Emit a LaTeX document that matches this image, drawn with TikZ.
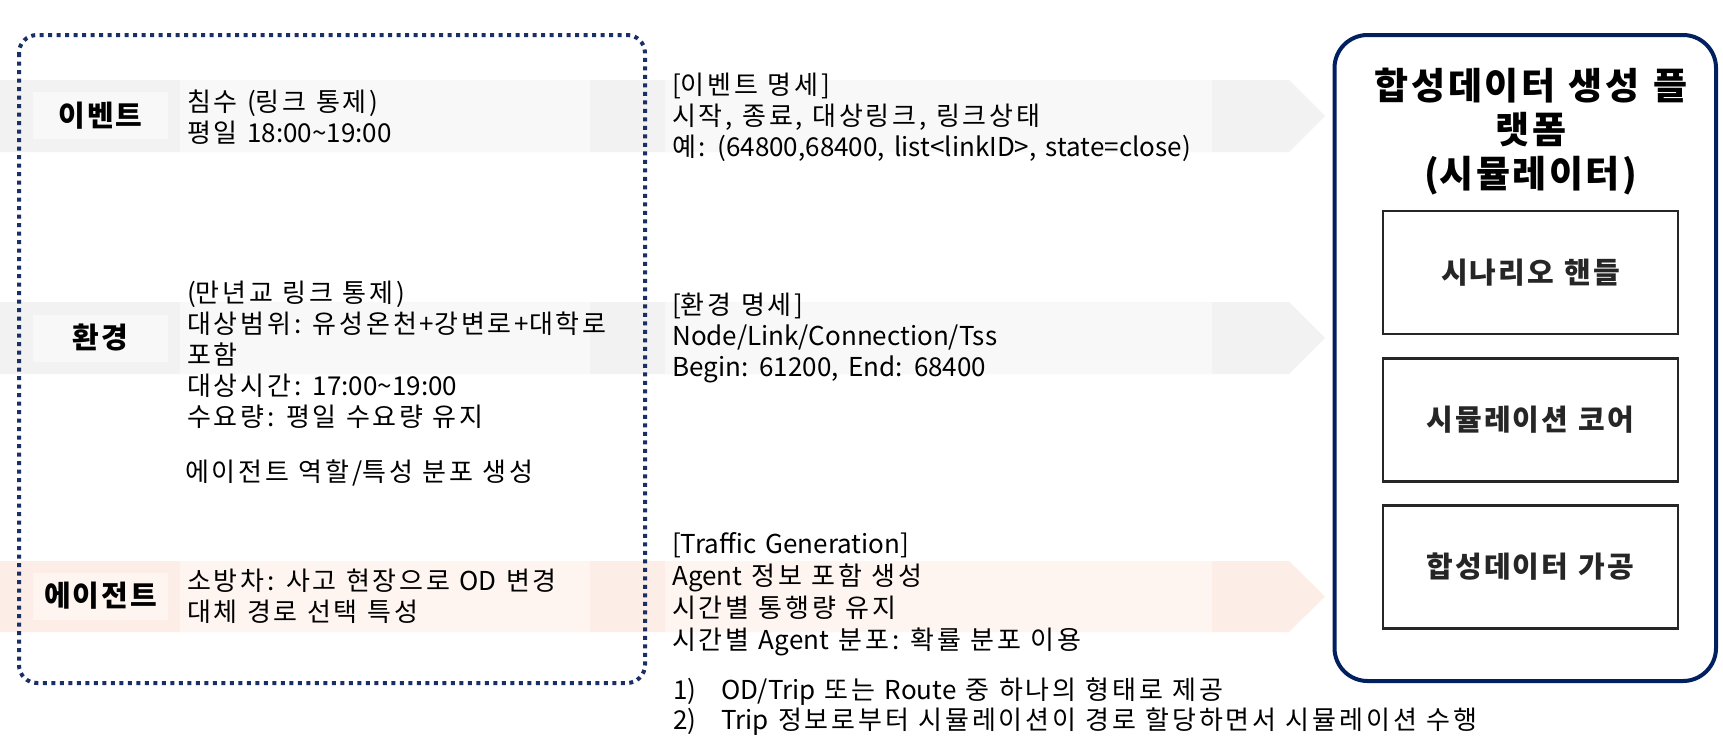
\documentclass[tikz,border=0pt]{standalone}
\usepackage{fontspec}
\setmainfont{Noto Sans CJK KR}[WordSpace=1.6]
% slightly wider tracking for Hangul syllables (closer to the reference face)
\def\hgk{.07em}
\XeTeXinterchartokenstate=1
\newXeTeXintercharclass\hgclass
\newcount\hgc
\hgc="AC00
\loop\ifnum\hgc<"D7A4 \XeTeXcharclass\hgc=\hgclass \advance\hgc by 1 \repeat
\XeTeXinterchartoks\hgclass\hgclass={\kern\hgk\relax}
\XeTeXinterchartoks\hgclass 0={\kern\hgk\relax}
\definecolor{navy}{RGB}{0,32,96}
\definecolor{dotnavy}{RGB}{26,48,100}
\definecolor{bandgray}{RGB}{242,242,242}
\definecolor{panelgray}{RGB}{248,248,248}
\definecolor{bandpeach}{RGB}{252,237,230}
\definecolor{panelpeach}{RGB}{254,245,241}
\definecolor{boxgray}{RGB}{38,38,38}
\begin{document}
\begin{tikzpicture}[x=1pt,y=-1pt,
  body/.style={anchor=west, align=left, inner sep=0pt, text=black,
    font=\fontsize{26}{31}\selectfont\def\hgk{.11em}},
  rowlabel/.style={inner sep=0pt, minimum width=135pt, minimum height=47pt,
    font=\fontsize{29}{34}\selectfont\bfseries},
  inbox/.style={draw=boxgray, line width=2.5pt, minimum width=295pt, minimum height=123pt,
    inner sep=0pt, text=boxgray, font=\fontsize{29}{36}\selectfont\bfseries}]
\useasboundingbox (0,0) rectangle (1723,750);

% ---- bands (arrow shapes) ----
\fill[bandgray] (0,80) -- (1289,80) -- (1325,116) -- (1289,152) -- (0,152) -- cycle;
\fill[panelgray] (180,80) rectangle (590,152);
\fill[panelgray] (665,80) rectangle (1212,152);

\fill[bandgray] (0,302) -- (1289,302) -- (1325,338) -- (1289,374) -- (0,374) -- cycle;
\fill[panelgray] (180,302) rectangle (590,374);
\fill[panelgray] (665,302) rectangle (1212,374);

\fill[bandpeach] (0,561) -- (1289,561) -- (1325,596.5) -- (1289,632) -- (0,632) -- cycle;
\fill[panelpeach] (180,561) rectangle (590,632);
\fill[panelpeach] (665,561) rectangle (1212,632);

% ---- row labels ----
\node[rowlabel, fill=panelgray] (lev) at (100.5,115.5) {이벤트};
\node[rowlabel, fill=panelgray] (lenv) at (100.5,338) {환경};
\node[rowlabel, fill=panelpeach] (lag) at (100.5,596) {에이전트};

% ---- left texts ----
\node[body] (tev) at (187,117) {침수 (링크 통제)\\평일 18:00\textasciitilde19:00};
\node[body] (tenv) at (187,355) {(만년교 링크 통제)\\대상범위: 유성온천+강변로+대학로\\포함\\대상시간: 17:00\textasciitilde19:00\\수요량: 평일 수요량 유지};
\node[body] (tdist) at (185,473) {에이전트 역할/특성 분포 생성};
\node[body] (tag) at (187,596) {소방차: 사고 현장으로 OD 변경\\대체 경로 선택 특성};

% ---- descriptions ----
\node[body] (dev) at (672,117) {[이벤트 명세]\\시작, 종료, 대상링크, 링크상태\\예: (64800,68400, list<linkID>, state=close)};
\node[body] (denv) at (672,338) {[환경 명세]\\Node/Link/Connection/Tss\\Begin: 61200, End: 68400};
\node[body, font=\fontsize{26}{32}\selectfont\def\hgk{.11em}] (dag) at (672,594) {[Traffic Generation]\\Agent 정보 포함 생성\\시간별 통행량 유지\\시간별 Agent 분포: 확률 분포 이용};
\node[body] (n1) at (673,692) {\makebox[48pt][l]{1)}OD/Trip 또는 Route 중 하나의 형태로 제공};
\node[body] (n2) at (673,722) {\makebox[48pt][l]{2)}Trip 정보로부터 시뮬레이션이 경로 할당하면서 시뮬레이션 수행};

% ---- dotted input group ----
\draw[dotnavy, line width=4pt, dash pattern=on 4pt off 4.5pt, rounded corners=18pt]
  (19,35) rectangle (645,683);

% ---- simulator platform ----
\draw[navy, line width=4pt, rounded corners=33pt, fill=white] (1334.5,35) rectangle (1716,681);
\node[align=center, inner sep=0pt, font=\fontsize{37}{44}\selectfont\bfseries] (title)
  at (1531,132) {합성데이터 생성 플\\랫폼\\(시뮬레이터)};
\node[inbox] (b1) at (1530.5,272.5) {시나리오 핸들};
\node[inbox] (b2) at (1530.5,420) {시뮬레이션 코어};
\node[inbox] (b3) at (1530.5,567) {합성데이터 가공};
\end{tikzpicture}
\end{document}
